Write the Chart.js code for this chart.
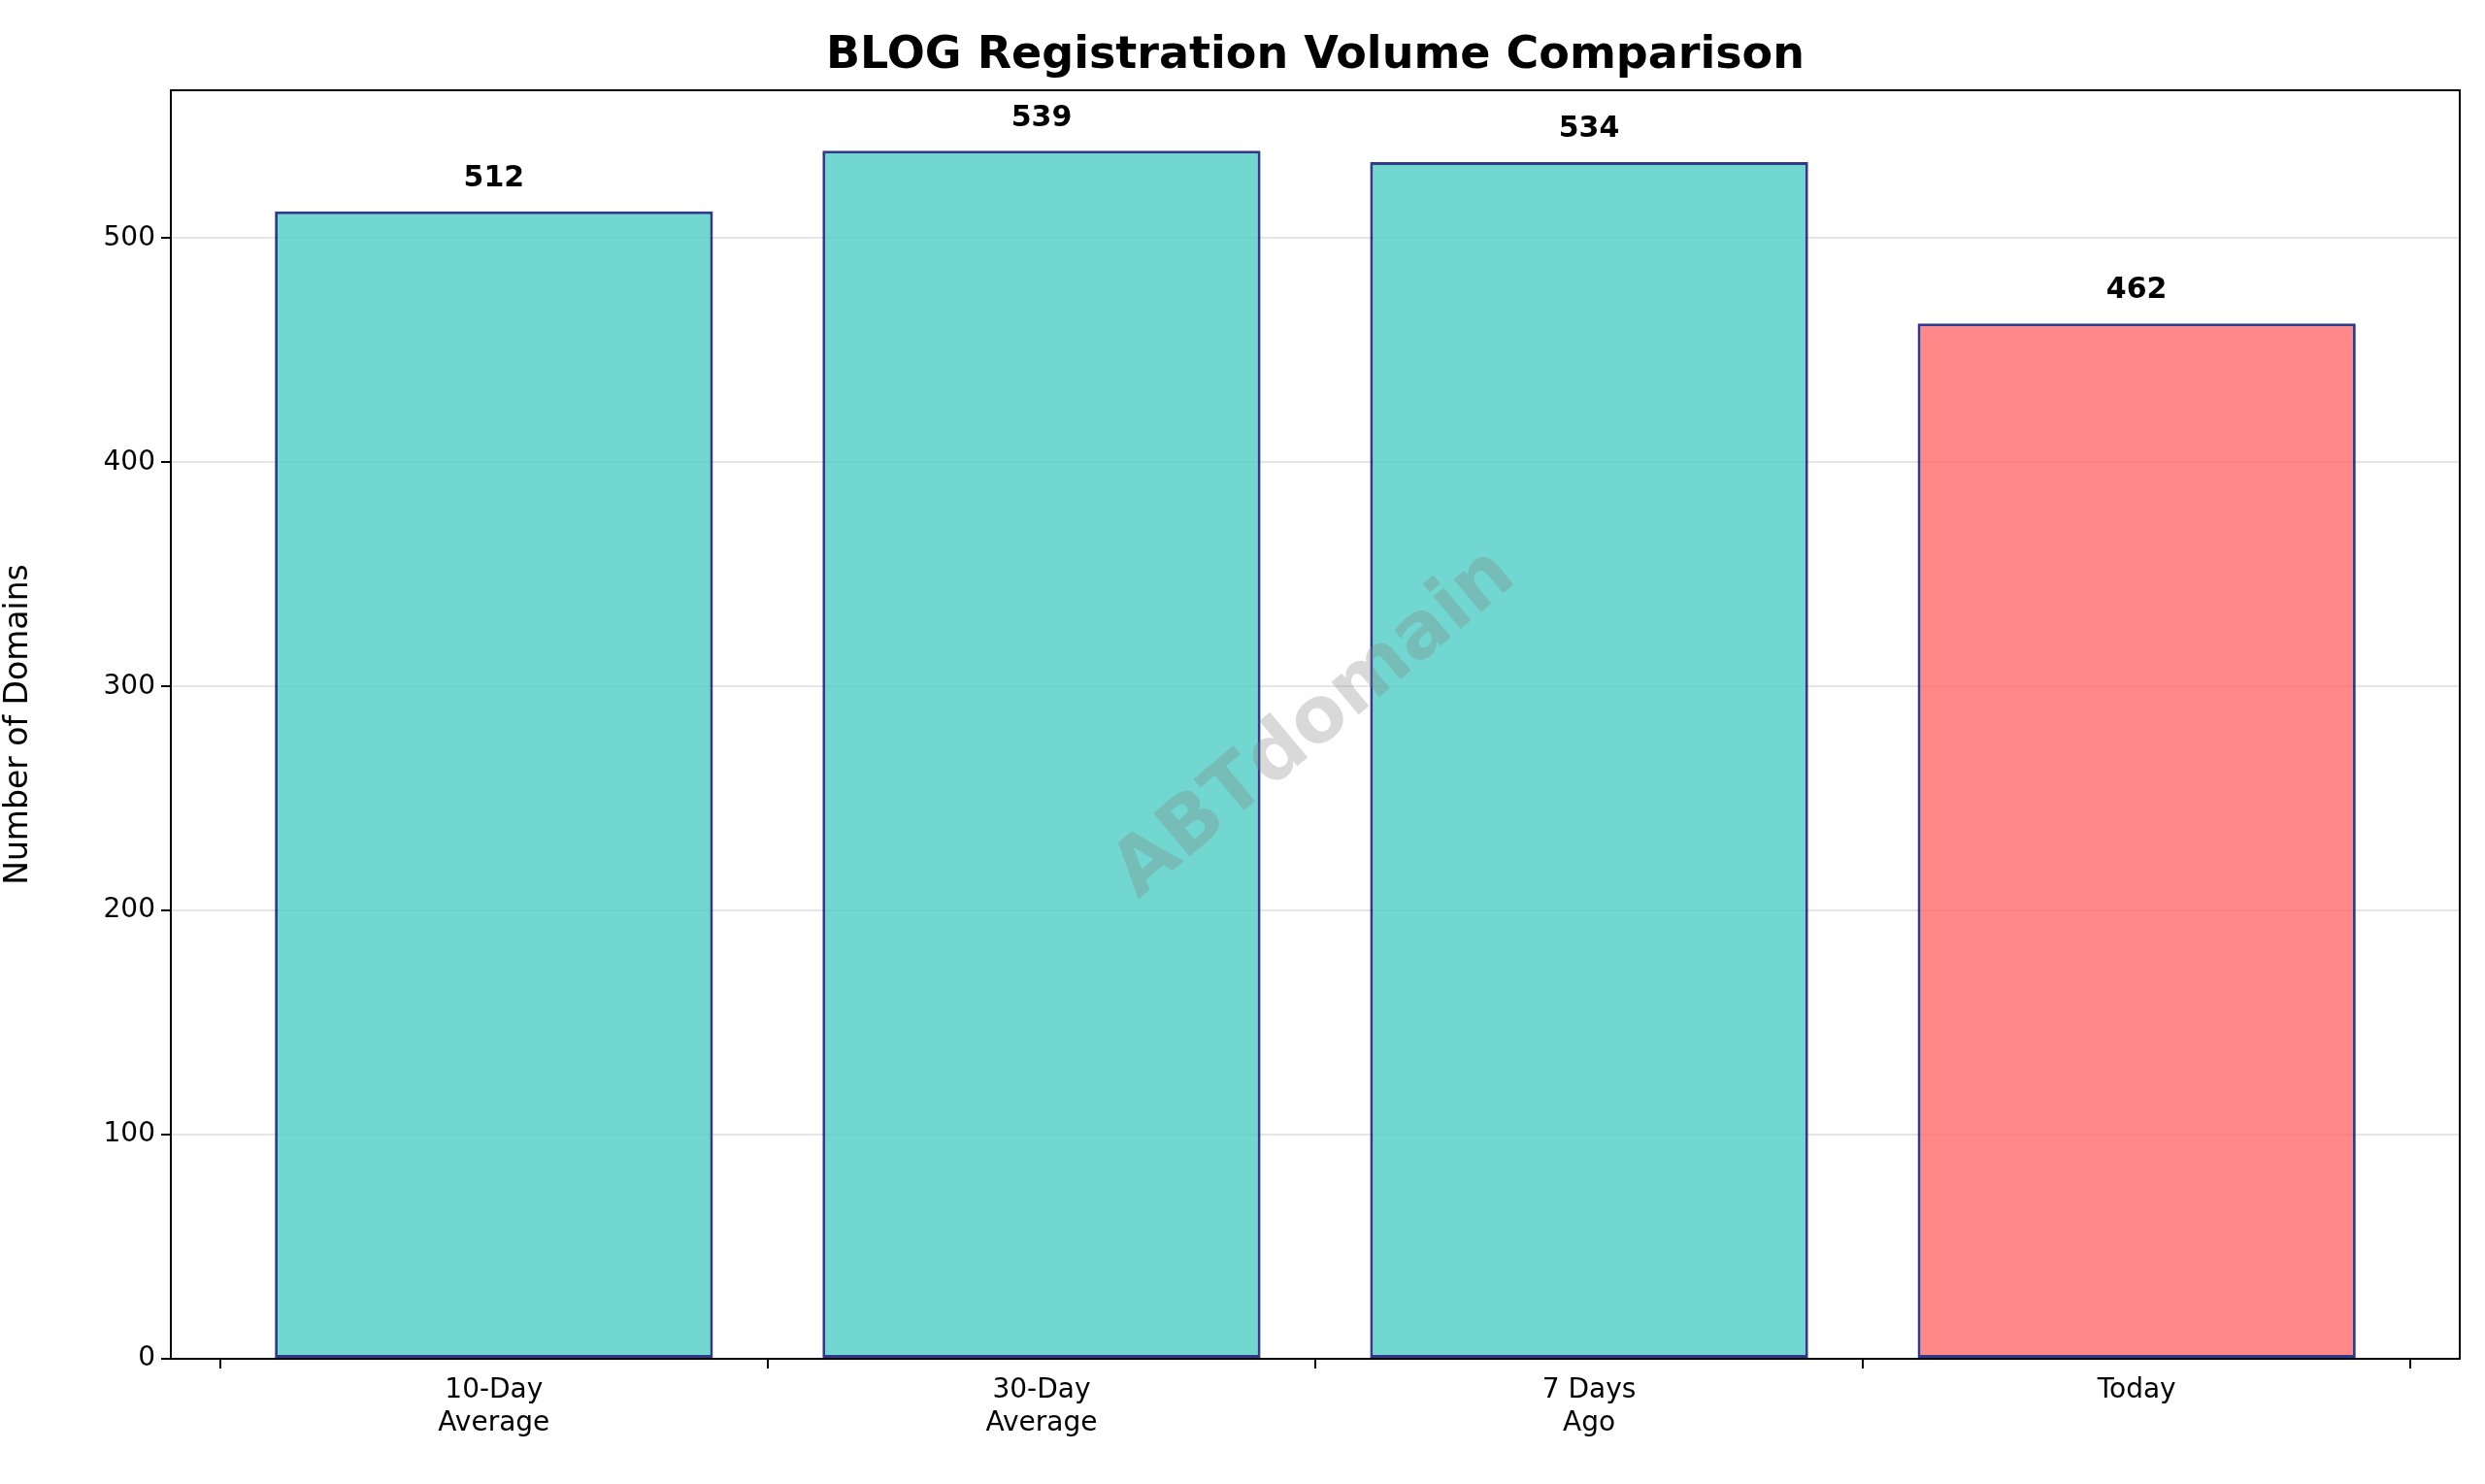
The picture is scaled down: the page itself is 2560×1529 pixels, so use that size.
<!DOCTYPE html>
<html><head><meta charset="utf-8">
<script src="https://cdn.jsdelivr.net/npm/chart.js@4/dist/chart.umd.min.js"></script>
<style>html,body{margin:0;padding:0;background:#fff}</style>
</head><body>
<canvas id="c" width="2560" height="1529"></canvas>
<script>
const categories = [["10-Day","Average"],["30-Day","Average"],["7 Days","Ago"],["Today"]];
const values = [512, 539, 534, 462];
const barColors = ["rgba(78,205,196,0.8)","rgba(78,205,196,0.8)","rgba(78,205,196,0.8)","rgba(255,107,107,0.8)"];
const yTicks = [0,100,200,300,400,500];
const FONT = "'DejaVu Sans', sans-serif";

const extras = {
  id:'extras',
  afterDatasetsDraw(chart){
    const ctx = chart.ctx, a = chart.chartArea, x = chart.scales.x, y = chart.scales.y;
    ctx.save();
    // value labels
    ctx.fillStyle = '#000'; ctx.font = 'bold 30px ' + FONT;
    ctx.textAlign = 'center'; ctx.textBaseline = 'bottom';
    values.forEach((v,i)=>ctx.fillText(String(v), x.getPixelForValue(i), y.getPixelForValue(v+8)));
    // watermark
    ctx.translate((a.left+a.right)/2, (a.top+a.bottom)/2);
    ctx.rotate(-40*Math.PI/180);
    ctx.fillStyle = 'rgba(128,128,128,0.3)'; ctx.font = 'bold 80px ' + FONT;
    ctx.textBaseline = 'middle';
    ctx.fillText('ABTdomain', 0, 0);
    ctx.restore();
    // frame
    ctx.save();
    ctx.strokeStyle = '#000'; ctx.lineWidth = 2;
    ctx.strokeRect(a.left, a.top, a.right-a.left, a.bottom-a.top);
    // title
    ctx.fillStyle = '#000'; ctx.font = 'bold 46px ' + FONT;
    ctx.textAlign = 'center'; ctx.textBaseline = 'bottom';
    ctx.fillText('BLOG Registration Volume Comparison', (a.left+a.right)/2, a.top - 12);
    ctx.restore();
  }
};

new Chart(document.getElementById('c'), {
  type:'bar',
  data:{ datasets:[{
    data: values.map((v,i)=>({x:i,y:v})),
    backgroundColor: barColors,
    borderColor: 'rgba(26,35,126,0.9)',
    borderWidth: 3,
    borderSkipped: false,
    categoryPercentage: 1.0,
    barPercentage: 0.8
  }]},
  options:{
    responsive:false, devicePixelRatio:1, animation:false,
    layout:{padding:{top:93, right:26, left:0, bottom:0}},
    plugins:{legend:{display:false}, tooltip:{enabled:false}},
    scales:{
      x:{ type:'linear', min:-0.59, max:3.59, offset:false,
        afterBuildTicks(s){ s.ticks = categories.map((c,i)=>({value:i})); },
        afterFit(s){ s.height = 129; },
        ticks:{ color:'#000', font:{family:FONT,size:28}, padding:6,
          callback:(v)=>categories[v] },
        grid:{ drawOnChartArea:false, color:'#000', tickLength:10, lineWidth:2 },
        border:{display:false}
      },
      y:{ min:0, max:566,
        afterBuildTicks(s){ s.ticks = yTicks.map(v=>({value:v})); },
        afterFit(s){ s.width = 176; },
        ticks:{ color:'#000', font:{family:FONT,size:28}, padding:6 },
        grid:{ color:(c)=>'rgba(0,0,0,0.1)', lineWidth:2, tickLength:10,
          tickColor:'#000' },
        border:{display:false},
        title:{ display:true, text:'Number of Domains', color:'#000',
          font:{family:FONT,size:33}, padding:{top:0,bottom:4} }
      }
    }
  },
  plugins:[extras]
});
</script>
</body></html>
